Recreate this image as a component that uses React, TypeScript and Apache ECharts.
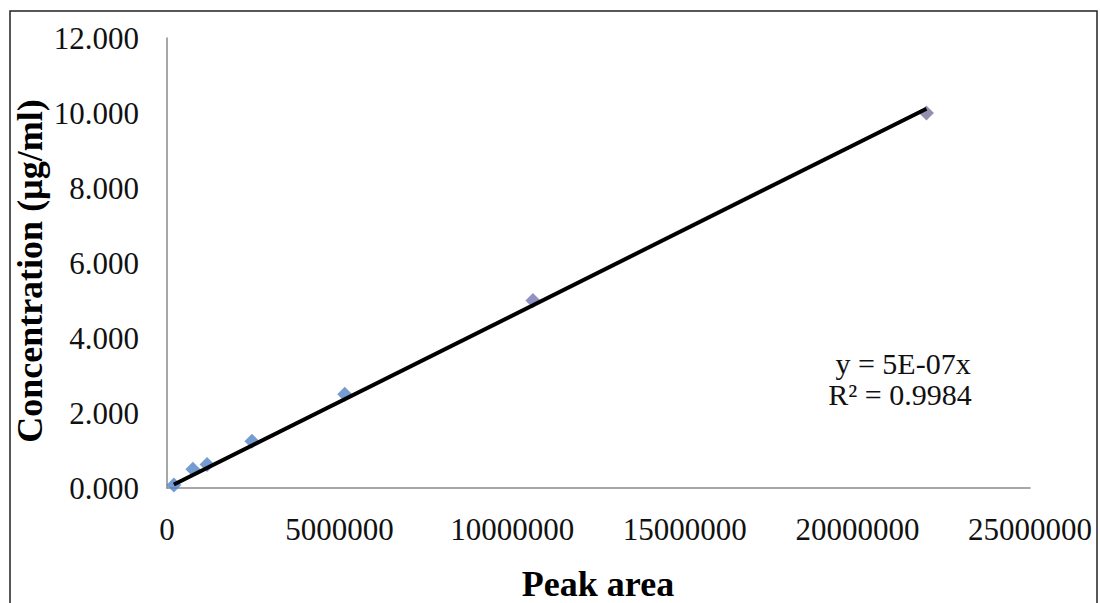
import React, { useEffect, useRef } from "react";
import * as echarts from "echarts";

const peakArea = [200000, 750000, 1160000, 2460000, 5150000, 10600000, 22000000];
const concentration = [0.08, 0.5, 0.625, 1.25, 2.5, 5, 10];
const pointColors = ["#5283c6", "#5283c6", "#5283c6", "#5283c6", "#5283c6", "#7676b8", "#76769a"];
const equationText = "y = 5E-07x";
const r2Text = "R² = 0.9984";
const xTitle = "Peak area";
const yTitle = "Concentration (µg/ml)";

export default function App() {
  const ref = useRef<HTMLDivElement>(null);
  useEffect(() => {
    if (!ref.current) return;
    const chart = echarts.init(ref.current, null, { renderer: "svg" });
    let sxy = 0;
    let sxx = 0;
    peakArea.forEach((x, i) => {
      sxy += x * concentration[i];
      sxx += x * x;
    });
    const slope = sxy / sxx;
    const xmin = Math.min(...peakArea);
    const xmax = Math.max(...peakArea);
    const font = "'Liberation Serif', 'Times New Roman', serif";
    chart.setOption({
      animation: false,
      backgroundColor: "#ffffff",
      grid: { left: 167, right: 70, top: 38, bottom: 115 },
      xAxis: {
        type: "value",
        min: 0,
        max: 25000000,
        interval: 5000000,
        axisLine: { lineStyle: { color: "#8a8a8a", width: 1.5 } },
        axisTick: { show: false },
        splitLine: { show: false },
        axisLabel: {
          formatter: (v: number) => String(v),
          fontFamily: font,
          fontSize: 31,
          color: "#111",
          margin: 26,
        },
      },
      yAxis: {
        type: "value",
        min: 0,
        max: 12,
        interval: 2,
        axisLine: { show: true, lineStyle: { color: "#8a8a8a", width: 1.5 } },
        axisTick: { show: false },
        splitLine: { show: false },
        axisLabel: {
          formatter: (v: number) => v.toFixed(3),
          fontFamily: font,
          fontSize: 31,
          color: "#111",
          margin: 28,
        },
      },
      series: [
        {
          type: "line",
          data: [
            [xmin, slope * xmin],
            [xmax, slope * xmax],
          ],
          showSymbol: false,
          symbol: "none",
          lineStyle: { color: "#000", width: 4 },
          z: 3,
        },
        {
          type: "scatter",
          data: peakArea.map((x, i) => ({
            value: [x, concentration[i]],
            itemStyle: { color: pointColors[i] },
          })),
          symbol: "diamond",
          symbolSize: 15,
          z: 2,
        },
      ],
      graphic: [
        {
          type: "rect",
          shape: { x: 10, y: 11, width: 1087, height: 600 },
          style: { fill: "none", stroke: "#222", lineWidth: 1.5 },
          silent: true,
        },
        {
          type: "text",
          x: 30,
          y: 271,
          rotation: Math.PI / 2,
          style: {
            text: yTitle,
            font: `bold 36px ${font}`,
            fill: "#000",
            align: "center",
            verticalAlign: "middle",
          },
        },
        {
          type: "text",
          x: 598,
          y: 584,
          style: {
            text: xTitle,
            font: `bold 36px ${font}`,
            fill: "#000",
            align: "center",
            verticalAlign: "middle",
          },
        },
        {
          type: "text",
          x: 903,
          y: 363,
          style: {
            text: equationText,
            font: `30px ${font}`,
            fill: "#111",
            align: "center",
            verticalAlign: "middle",
          },
        },
        {
          type: "text",
          x: 900,
          y: 394,
          style: {
            text: r2Text,
            font: `30px ${font}`,
            fill: "#111",
            align: "center",
            verticalAlign: "middle",
          },
        },
      ],
    });
    return () => chart.dispose();
  }, []);
  return (
    <div
      ref={ref}
      style={{ position: "absolute", left: 0, top: 0, width: 1100, height: 603 }}
    />
  );
}
